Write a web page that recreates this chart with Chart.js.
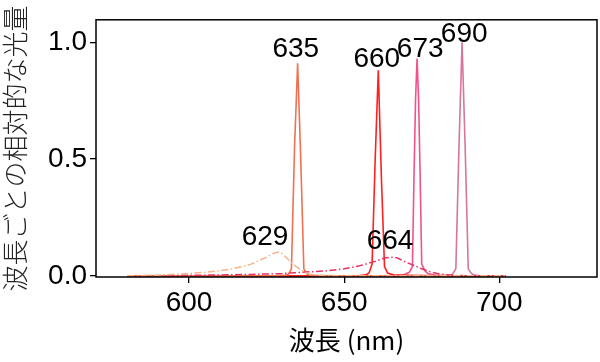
<!DOCTYPE html>
<html>
<head>
<meta charset="utf-8">
<script src="https://cdn.jsdelivr.net/npm/chart.js@4"></script>
<style>
  html, body { margin: 0; padding: 0; background: #fff; }
</style>
</head>
<body>
<canvas id="chart" width="600" height="362"></canvas>
<script>
// wavelength (nm) / relative intensity
const wl635 = [580, 600, 620, 628, 631, 632, 633, 634, 635, 636, 637, 638, 639, 642, 660, 680, 702];
const val635 = [0, 0, 0, 0.001, 0.003, 0.006, 0.03, 0.55, 0.91, 0.5, 0.03, 0.008, 0.003, 0, 0, 0, 0];

const wl660 = [580, 620, 650, 655, 657, 658, 659, 660, 661, 662, 663, 664, 666, 680, 702];
const val660 = [0, 0, 0, 0.001, 0.004, 0.012, 0.05, 0.5, 0.88, 0.42, 0.04, 0.012, 0.003, 0, 0];

const wl673 = [580, 640, 665, 669, 671, 672, 672.5, 673, 673.5, 674, 674.5, 675, 676, 677, 679, 683, 702];
const val673 = [0, 0, 0.001, 0.004, 0.015, 0.04, 0.42, 0.75, 0.93, 0.75, 0.42, 0.05, 0.022, 0.01, 0.003, 0, 0];

const wl690 = [580, 660, 680, 684, 685, 686, 687, 688, 689, 690, 691, 692, 694, 702];
const val690 = [0, 0, 0, 0.003, 0.008, 0.03, 0.55, 1.0, 0.55, 0.03, 0.01, 0.003, 0, 0];

const wl629 = [580, 590, 600, 605, 610, 614, 618, 620, 622, 625, 627, 628.5, 630, 632, 633, 635, 637, 639, 642, 646, 650, 702];
const val629 = [0, 0.003, 0.01, 0.015, 0.022, 0.03, 0.042, 0.05, 0.062, 0.08, 0.095, 0.102, 0.095, 0.07, 0.055, 0.035, 0.017, 0.007, 0.003, 0.001, 0, 0];

const wl664 = [580, 600, 620, 630, 640, 645, 650, 655, 660, 663, 665, 667, 670, 673, 675, 678, 681, 685, 690, 702];
const val664 = [0, 0.002, 0.006, 0.01, 0.018, 0.022, 0.03, 0.043, 0.062, 0.076, 0.08, 0.077, 0.058, 0.042, 0.03, 0.016, 0.007, 0.002, 0, 0];

// peak annotations
const peakLabels = ['635', '660', '673', '690', '629', '664'];
const labelX = [634.4, 660.5, 674.5, 688.7, 624.5, 664.8];
const labelY = [0.937, 0.895, 0.937, 1.0, 0.134, 0.113];

const xTicks = [600, 650, 700];
const yTicks = [0, 0.5, 1.0];

const toPts = (xs, ys) => xs.map((v, i) => ({ x: v, y: ys[i] }));

const peakLabelPlugin = {
    id: 'peakLabels',
    afterDatasetsDraw(chart) {
        const { ctx, scales: { x, y } } = chart;
        ctx.save();
        ctx.font = '28px "Liberation Sans", Arial, sans-serif';
        ctx.fillStyle = '#000';
        ctx.textAlign = 'center';
        ctx.textBaseline = 'alphabetic';
        peakLabels.forEach((t, i) => {
            ctx.fillText(t, x.getPixelForValue(labelX[i]), y.getPixelForValue(labelY[i]));
        });
        ctx.restore();
    }
};

const framePlugin = {
    id: 'frame',
    afterDraw(chart) {
        const { ctx, chartArea: a } = chart;
        ctx.save();
        ctx.strokeStyle = '#000';
        ctx.lineWidth = 1.5;
        ctx.strokeRect(a.left, a.top, a.right - a.left, a.bottom - a.top);
        ctx.restore();
    }
};

const solid = (label, xs, ys, color) => ({
    label, data: toPts(xs, ys), borderColor: color, borderWidth: 1.6,
    pointRadius: 0, tension: 0, fill: false
});
const dashed = (label, xs, ys, color) => ({
    label, data: toPts(xs, ys), borderColor: color, borderWidth: 1.5,
    borderDash: [7, 2.5, 1.5, 2.5], pointRadius: 0, tension: 0, fill: false
});

new Chart(document.getElementById('chart'), {
    type: 'line',
    data: {
        datasets: [
            dashed('629', wl629, val629, '#f6b48c'),
            dashed('664', wl664, val664, '#e6345e'),
            solid('635', wl635, val635, '#f2704f'),
            solid('660', wl660, val660, '#ff1f1f'),
            solid('673', wl673, val673, '#f2528c'),
            solid('690', wl690, val690, '#d8759c')
        ]
    },
    options: {
        responsive: false,
        animation: false,
        layout: { padding: { top: 15, right: 3, left: 0, bottom: 0 } },
        plugins: { legend: { display: false }, tooltip: { enabled: false } },
        scales: {
            x: {
                type: 'linear', min: 570, max: 731.5,
                afterBuildTicks: (s) => { s.ticks = xTicks.map(v => ({ value: v })); },
                afterFit: (s) => { s.height = 85; },
                border: { display: false },
                grid: { drawOnChartArea: false, drawTicks: true, tickLength: 6, color: '#000', lineWidth: 1.3 },
                ticks: { color: '#000', padding: 3, font: { family: '"Liberation Sans", Arial, sans-serif', size: 28 } },
                title: {
                    display: true, text: '波長 (nm)', color: '#000',
                    font: { family: '"Noto Sans CJK JP", sans-serif', size: 26 },
                    padding: { top: 0, bottom: 6 }
                }
            },
            y: {
                min: -0.005, max: 1.096,
                afterBuildTicks: (s) => { s.ticks = yTicks.map(v => ({ value: v })); },
                afterFit: (s) => { s.width = 96; },
                border: { display: false },
                grid: { drawOnChartArea: false, drawTicks: true, tickLength: 6, color: '#000', lineWidth: 1.3 },
                ticks: {
                    color: '#000', padding: 3,
                    font: { family: '"Liberation Sans", Arial, sans-serif', size: 28 },
                    callback: (v) => v.toFixed(1)
                },
                title: {
                    display: true, text: '波長ごとの相対的な光量', color: '#222',
                    font: { family: '"Noto Sans CJK JP", sans-serif', size: 26, weight: '300' },
                    padding: { top: 0, bottom: 0 }
                }
            }
        }
    },
    plugins: [peakLabelPlugin, framePlugin]
});
</script>
</body>
</html>
